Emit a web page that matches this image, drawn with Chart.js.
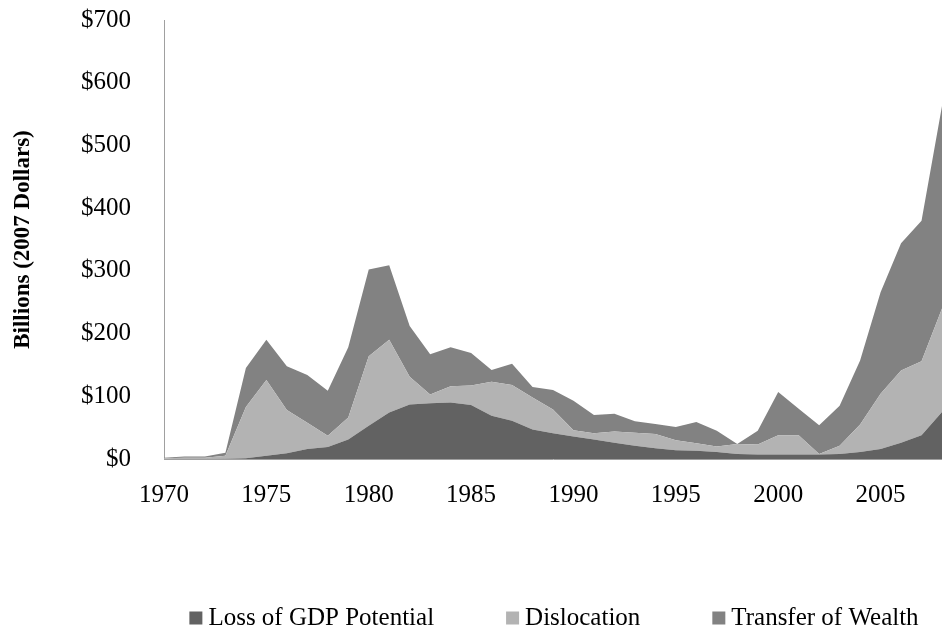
<!DOCTYPE html>
<html>
<head>
<meta charset="utf-8">
<script src="https://cdn.jsdelivr.net/npm/chart.js@4.4.1/dist/chart.umd.min.js"></script>
<style>
  html, body { margin: 0; padding: 0; background: #fff; }
  #wrap { width: 942px; height: 636px; }
</style>
</head>
<body>
<div id="wrap"><canvas id="chart"></canvas></div>
<script>
// years 1970 - 2008
const years = [];
for (let y = 1970; y <= 2008; y++) years.push(String(y));

// billions of 2007 dollars
const lossGDP = [0, 0, 0, 0.5, 1, 5, 9, 16, 19, 31, 53, 74, 87, 89, 90, 86, 69, 61, 47, 41,
  36, 31, 26, 21, 17, 14, 13, 11, 8, 7, 7, 7, 7, 8, 11, 16, 26, 38, 75];
const dislocation = [1, 2, 2, 4.5, 82, 121, 69, 42, 18, 35, 111, 116, 44, 14, 26, 31, 54, 57, 51, 38,
  10, 10, 18, 21, 23, 16, 12, 9, 16, 16, 31, 31, 1, 13, 44, 88, 115, 118, 165];
const transfer = [1, 2, 2, 5, 62, 64, 70, 76, 72, 112, 138, 119, 81, 64, 62, 52, 19, 34, 17, 31,
  47, 29, 28, 18, 16, 21, 34, 25, 0, 22, 69, 42, 46, 64, 102, 162, 203, 224, 323];

const FONT = "'Liberation Serif', 'Times New Roman', serif";

// legend drawn under the axis, like the original
const bottomLegend = {
  id: "bottomLegend",
  afterDraw(chart) {
    const ctx = chart.ctx;
    const box = 13, gap = 6, spacing = 72;
    ctx.save();
    ctx.font = "25px " + FONT;
    ctx.textBaseline = "middle";
    const items = chart.data.datasets.map((ds) => ({
      text: ds.label,
      color: ds.backgroundColor,
      w: box + gap + ctx.measureText(ds.label).width,
    }));
    const total = items.reduce((s, it) => s + it.w, 0) + spacing * (items.length - 1);
    let x = (chart.chartArea.left + chart.chartArea.right) / 2 - total / 2 + 1;
    const y = chart.height - 18;
    items.forEach((it) => {
      ctx.fillStyle = it.color;
      ctx.fillRect(x, y - box / 2, box, box);
      ctx.fillStyle = "#000";
      ctx.fillText(it.text, x + box + gap, y);
      x += it.w + spacing;
    });
    ctx.restore();
  },
};

new Chart(document.getElementById("chart"), {
  type: "line",
  data: {
    labels: years,
    datasets: [
      {
        label: "Loss of GDP Potential",
        data: lossGDP,
        backgroundColor: "#626262",
        fill: "origin",
      },
      {
        label: "Dislocation",
        data: dislocation,
        backgroundColor: "#b3b3b3",
        fill: "-1",
      },
      {
        label: "Transfer of Wealth",
        data: transfer,
        backgroundColor: "#828282",
        fill: "-1",
      },
    ],
  },
  plugins: [bottomLegend],
  options: {
    responsive: true,
    maintainAspectRatio: false,
    animation: false,
    layout: { padding: { top: 20, right: 0, bottom: 105, left: 0 } },
    elements: {
      line: { borderWidth: 0, tension: 0 },
      point: { radius: 0 },
    },
    plugins: {
      legend: { display: false },
      tooltip: { enabled: false },
    },
    scales: {
      x: {
        type: "category",
        offset: false,
        grid: { display: false, drawTicks: false },
        border: { color: "#a0a0a0", width: 1 },
        ticks: {
          autoSkip: false,
          maxRotation: 0,
          padding: 21,
          color: "#000",
          font: { family: FONT, size: 25 },
          callback: function (value) {
            const lbl = this.getLabelForValue(value);
            return Number(lbl) % 5 === 0 ? lbl : "";
          },
        },
        afterFit: (scale) => {
          scale.paddingLeft = 0;
          scale.paddingRight = 0;
        },
      },
      y: {
        stacked: true,
        min: 0,
        max: 700,
        grid: { display: false, drawTicks: false },
        border: { color: "#a0a0a0", width: 1 },
        ticks: {
          stepSize: 100,
          padding: 33,
          color: "#000",
          font: { family: FONT, size: 25 },
          callback: (v) => "$" + v,
        },
        title: {
          display: true,
          text: "Billions (2007 Dollars)",
          color: "#000",
          font: { family: FONT, size: 23, weight: "bold" },
          padding: { top: 9, bottom: 0 },
        },
        afterFit: (scale) => {
          scale.width = 164;
          scale.paddingTop = 0;
          scale.paddingBottom = 0;
        },
      },
    },
  },
});
</script>
</body>
</html>
